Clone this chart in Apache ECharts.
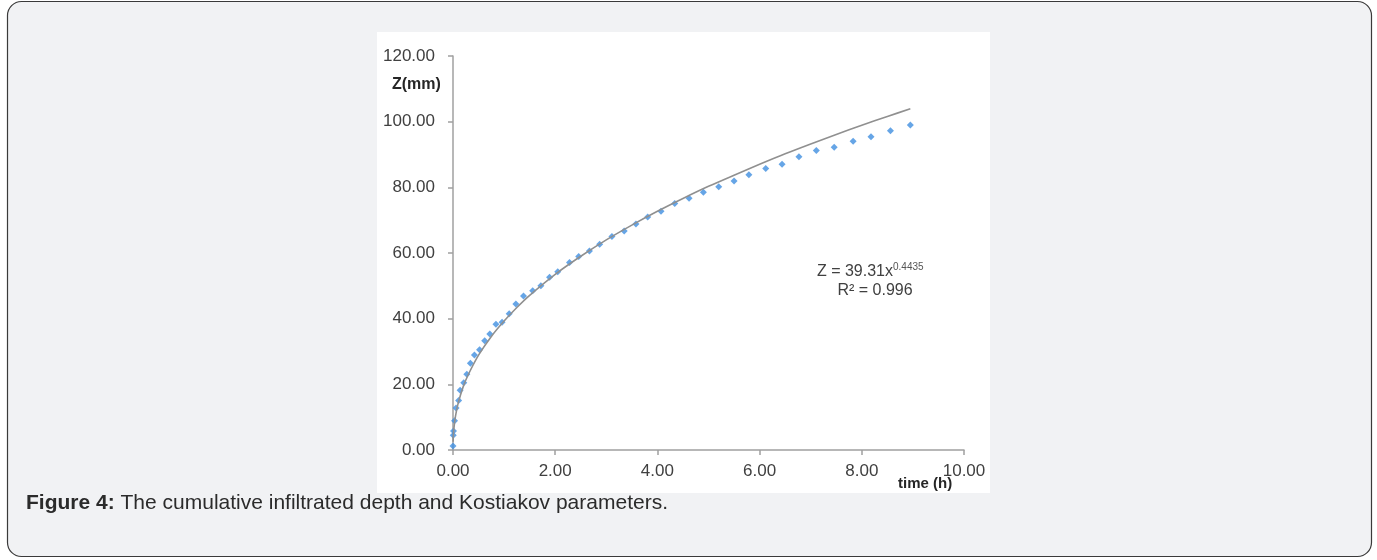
<!DOCTYPE html>
<html>
<head>
<meta charset="utf-8">
<script src="https://cdn.jsdelivr.net/npm/echarts@6/dist/echarts.min.js"></script>
<style>
  html, body { margin: 0; padding: 0; background: #ffffff; }
  #chart { width: 1377px; height: 560px; }
</style>
</head>
<body>
<div id="chart"></div>
<script>
// Measured cumulative infiltrated depth
const timeH = [0, 0.005, 0.01, 0.03, 0.06, 0.11, 0.14, 0.21, 0.27, 0.34, 0.42, 0.52, 0.62, 0.72, 0.84, 0.96, 1.10, 1.23, 1.38, 1.56, 1.72, 1.89, 2.05, 2.28, 2.46, 2.67, 2.87, 3.11, 3.35, 3.58, 3.81, 4.07, 4.34, 4.62, 4.90, 5.20, 5.50, 5.79, 6.12, 6.44, 6.77, 7.11, 7.46, 7.83, 8.18, 8.56, 8.95];
const depthZ = [1.2, 4.5, 5.8, 8.9, 12.8, 15.1, 18.2, 20.5, 23.1, 26.4, 28.9, 30.5, 33.3, 35.3, 38.3, 38.9, 41.5, 44.5, 46.9, 48.5, 50.0, 52.6, 54.3, 57.1, 58.9, 60.6, 62.7, 65.0, 66.7, 68.8, 71.0, 72.7, 75.1, 76.7, 78.5, 80.2, 81.9, 83.8, 85.7, 87.0, 89.3, 91.2, 92.2, 94.0, 95.4, 97.2, 99.0];

// Power trend line
const trendT = [0.002, 0.005, 0.01, 0.02, 0.05, 0.1, 0.2, 0.3, 0.5, 0.75, 1, 1.25, 1.5, 2, 2.5, 3, 3.5, 4, 4.5, 5, 5.5, 6, 6.5, 7, 7.5, 8, 8.5, 8.95];
const trendZ = [2.5, 3.8, 5.1, 6.9, 10.4, 14.2, 19.3, 23.0, 28.9, 34.6, 39.3, 43.4, 47.1, 53.5, 59.0, 64.0, 68.5, 72.7, 76.6, 80.3, 83.7, 87.0, 90.2, 93.2, 96.1, 98.9, 101.6, 103.9];

// Axis ticks
const xTicks = { min: 0, max: 10, interval: 2 };
const yTicks = { min: 0, max: 120, interval: 20 };

const equationText = 'Z = 39.31x';
const exponentText = '0.4435';
const r2Text = 'R² = 0.996';
const yName = 'Z(mm)';
const xName = 'time (h)';
const captionBold = 'Figure 4:';
const captionRest = ' The cumulative infiltrated depth and Kostiakov parameters.';

const FONT = 'Liberation Sans, Arial, sans-serif';
const chart = echarts.init(document.getElementById('chart'), null, { renderer: 'canvas' });

chart.setOption({
  animation: false,
  backgroundColor: 'transparent',
  grid: { left: 453, right: 413, top: 56, bottom: 110, containLabel: false },
  xAxis: {
    type: 'value', min: xTicks.min, max: xTicks.max, interval: xTicks.interval,
    axisLine: { show: true, lineStyle: { color: '#a0a0a0', width: 1.5 } },
    axisTick: { show: true, inside: false, length: 5, lineStyle: { color: '#a0a0a0', width: 1.5 } },
    axisLabel: { color: '#404040', fontFamily: FONT, fontSize: 17, margin: 13, formatter: v => v.toFixed(2) },
    splitLine: { show: false }
  },
  yAxis: {
    type: 'value', min: yTicks.min, max: yTicks.max, interval: yTicks.interval,
    axisLine: { show: true, onZero: false, lineStyle: { color: '#a0a0a0', width: 1.5 } },
    axisTick: { show: true, length: 5, lineStyle: { color: '#a0a0a0', width: 1.5 } },
    axisLabel: { color: '#404040', fontFamily: FONT, fontSize: 17, margin: 18, formatter: v => v.toFixed(2) },
    splitLine: { show: false }
  },
  series: [
    {
      type: 'scatter', name: 'measured',
      data: timeH.map((t, i) => [t, depthZ[i]]),
      symbol: 'diamond', symbolSize: 7,
      itemStyle: { color: '#408ee0' },
      z: 2
    },
    {
      type: 'line', name: 'trend',
      data: trendT.map((t, i) => [t, trendZ[i]]),
      smooth: 0.3, showSymbol: false, symbol: 'none',
      lineStyle: { color: '#909090', width: 1.6 },
      z: 3
    }
  ],
  graphic: [
    { type: 'rect', z: -20, shape: { x: 7.5, y: 1.5, width: 1364, height: 555, r: 14 },
      style: { fill: '#f1f2f4', stroke: '#3a3a3a', lineWidth: 1.2 } },
    { type: 'rect', z: -10, shape: { x: 377, y: 32, width: 613, height: 461 },
      style: { fill: '#ffffff' } },
    { type: 'text', z: 10, x: 392, y: 85,
      style: { text: yName, fill: '#262626', font: 'bold 16px ' + FONT, verticalAlign: 'middle' } },
    { type: 'text', z: 10, x: 898, y: 484,
      style: { text: xName, fill: '#262626', font: 'bold 15px ' + FONT, verticalAlign: 'middle' } },
    { type: 'text', z: 10, x: 893, y: 272,
      style: { text: equationText, fill: '#404040', font: '16px ' + FONT, align: 'right', verticalAlign: 'middle' } },
    { type: 'text', z: 10, x: 893, y: 267,
      style: { text: exponentText, fill: '#555555', font: '10px ' + FONT, align: 'left', verticalAlign: 'middle' } },
    { type: 'text', z: 10, x: 875, y: 291,
      style: { text: r2Text, fill: '#404040', font: '16px ' + FONT, align: 'center', verticalAlign: 'middle' } },
    { type: 'text', z: 10, x: 26, y: 503,
      style: { rich: {
        b: { font: 'bold 21px ' + FONT, fill: '#2b2b2b' },
        n: { font: '21px ' + FONT, fill: '#2b2b2b' }
      }, text: '{b|' + captionBold + '}{n|' + captionRest + '}', verticalAlign: 'middle' } }
  ]
});
</script>
</body>
</html>
